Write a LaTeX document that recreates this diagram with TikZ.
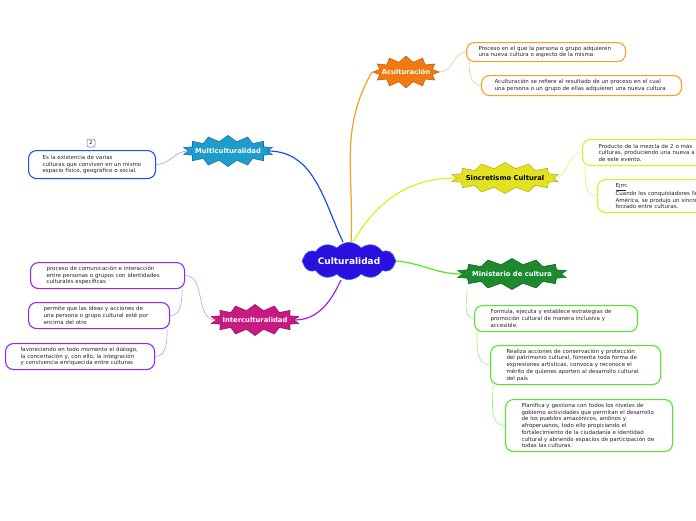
\documentclass[tikz,border=0pt]{standalone}
\usepackage{fontspec}
\setmainfont{DejaVu Sans}
\usetikzlibrary{positioning,shapes.symbols}

\definecolor{cultblue}{HTML}{2A10E0}
\definecolor{cultedge}{HTML}{3A6AE8}
\definecolor{acuorange}{HTML}{F07A10}
\definecolor{aculine}{HTML}{F8A020}
\definecolor{sincyellow}{HTML}{E2E220}
\definecolor{sincline}{HTML}{D8F020}
\definecolor{multiteal}{HTML}{1E9CCC}
\definecolor{multiline}{HTML}{1A50F0}
\definecolor{intermag}{HTML}{C81A80}
\definecolor{interline}{HTML}{A020F0}
\definecolor{mingreen}{HTML}{1E8A30}
\definecolor{minline}{HTML}{50E828}

\begin{document}
\begin{tikzpicture}[
    x=1pt, y=-1pt,
    burst/.style={starburst, starburst points=14, starburst point height=6pt,
                  random starburst=0, inner xsep=-5pt, inner ysep=0pt, line width=0.6pt,
                  font=\fontsize{6.8}{8}\selectfont\bfseries, text=white},
    leaf/.style={rectangle, rounded corners=8pt, draw, fill=white, line width=1.1pt,
                 anchor=north west, align=left, inner xsep=15pt, inner ysep=0pt,
                 font=\fontsize{5.5}{6.7}\selectfont, text=black!85},
    trunk/.style={line width=1.2pt},
    twig/.style={line width=0.6pt},
  ]
  \clip (0,0) rectangle (696,520);
  \fill[white] (0,0) rectangle (696,520);

  % central idea
  \node[cloud, cloud puffs=12, cloud puff arc=100, aspect=3.2, fill=cultblue,
        draw=cultedge, line width=0.6pt, minimum width=94pt, minimum height=34pt,
        inner sep=0pt, text=white, font=\fontsize{9}{10}\selectfont\bfseries]
        (cult) at (349,261) {Culturalidad};

  % main topics
  \node[burst, starburst points=12, fill=acuorange, draw=acuorange!80!black,
        minimum height=32pt] (acu) at (406,72) {Aculturación};
  \node[burst, fill=sincyellow, draw=sincyellow!80!black, text=black,
        minimum height=31pt] (sinc) at (505,178) {Sincretismo Cultural};
  \node[burst, fill=multiteal, draw=multiteal!75!black,
        minimum height=31pt] (multi) at (228,151) {Multiculturalidad};
  \node[burst, fill=intermag, draw=intermag!75!black,
        minimum height=31pt] (inter) at (255,320) {Interculturalidad};
  \node[burst, fill=mingreen, draw=mingreen!75!black,
        minimum height=31pt] (min) at (512,274) {Ministerio de cultura};

  % subtopics
  \node[leaf, draw=aculine, inner xsep=12pt, text width=135pt, minimum height=19pt] (acu1) at (466,42)
    {Proceso en el que la persona o grupo adquieren\\una nueva cultura o aspecto de la misma};
  \node[leaf, draw=aculine, inner xsep=13pt, text width=174pt, minimum height=20pt] (acu2) at (481,75)
    {Aculturación se refiere al resultado de un proceso en el cual\\una persona o un grupo de ellas adquieren una nueva cultura};

  \node[leaf, draw=sincline, inner xsep=16pt, text width=150pt, minimum height=26pt] (sinc1) at (582,139)
    {Producto de la mezcla de 2 o más\\culturas, produciendo una nueva a partir\\de este evento.};
  \node[leaf, draw=sincline, inner xsep=18pt, text width=150pt, minimum height=33pt] (sinc2) at (597,179)
    {\underline{Ejm}:\\Cuando los conquistadores llegaron a\\América, se produjo un sincretismo\\forzado entre culturas.};

  \node[leaf, draw=multiline, inner xsep=14pt, text width=99pt, minimum height=28pt] (multi1) at (28,150)
    {Es la existencia de varias\\culturas que conviven en un mismo\\espacio físico, geográfico o social.};
  \node[rectangle, rounded corners=2pt, draw=multiline!40!gray, line width=0.5pt,
        inner sep=1pt, minimum width=8pt, minimum height=8pt,
        font=\fontsize{5}{6}\selectfont] (badge) at (91,143) {2};

  \node[leaf, draw=interline, inner xsep=16pt, text width=122pt, minimum height=26pt] (inter1) at (30,262)
    {proceso de comunicación e interacción\\entre personas o grupos con identidades\\culturales específicas};
  \node[leaf, draw=interline, text width=111pt, minimum height=26pt] (inter2) at (28,302)
    {permite que las ideas y acciones de\\una persona o grupo cultural esté por\\encima del otro};
  \node[leaf, draw=interline, text width=119pt, minimum height=26pt] (inter3) at (5,343)
    {favoreciendo en todo momento el diálogo,\\la concertación y, con ello, la integración\\y convivencia enriquecida entre culturas};

  \node[leaf, draw=minline, inner xsep=16pt, text width=131pt, minimum height=26pt] (min1) at (474,305)
    {Formula, ejecuta y establece estrategias de\\promoción cultural de manera inclusiva y\\accesible.};
  \node[leaf, draw=minline, inner xsep=16pt, text width=138pt, minimum height=39pt] (min2) at (490,345)
    {Realiza acciones de conservación y protección\\del patrimonio cultural, fomenta toda forma de\\expresiones artísticas, convoca y reconoce el\\mérito de quienes aporten al desarrollo cultural\\del país};
  \node[leaf, draw=minline, inner xsep=16pt, text width=135pt, minimum height=52pt] (min3) at (505,399)
    {Planifica y gestiona con todos los niveles de\\gobierno actividades que permitan el desarrollo\\de los pueblos amazónicos, andinos y\\afroperuanos, todo ello propiciando el\\fortalecimiento de la ciudadanía e identidad\\cultural y abriendo espacios de participación de\\todas las culturas.};

  % branches from the centre
  \draw[trunk, aculine] ([xshift=2pt]cult.north) to[out=87, in=240] (acu.west);
  \draw[trunk, sincline!90!yellow] ([xshift=4pt]cult.north) to[out=60, in=180] (sinc.west);
  \draw[trunk, multiline] ([xshift=-6pt]cult.north) to[out=115, in=0] (multi.east);
  \draw[trunk, interline] ([xshift=-8pt]cult.south) to[out=-115, in=0] (inter.east);
  \draw[trunk, minline] (cult.east) to[out=-5, in=180] (min.west);

  % twigs to the subtopics
  \draw[twig, aculine!60] (acu.east) to[out=0, in=180] (acu1.west);
  \draw[twig, aculine!60] ([xshift=3pt]acu1.south west) to[out=-90, in=180] (acu2.west);
  \draw[twig, sincline!70] (sinc.east) to[out=0, in=180] (sinc1.west);
  \draw[twig, sincline!70] ([xshift=3pt]sinc1.south west) to[out=-90, in=180] (sinc2.west);
  \draw[twig, multiline!50] (multi.west) to[out=180, in=0] (multi1.east);
  \draw[twig, interline!50] (inter.west) to[out=180, in=0] (inter1.east);
  \draw[twig, interline!50] ([xshift=-3pt]inter1.south east) to[out=-90, in=0] (inter2.east);
  \draw[twig, interline!50] ([xshift=-3pt]inter2.south east) to[out=-90, in=0] (inter3.east);
  \draw[twig, minline!60] ([xshift=-45pt]min.south) to[out=-90, in=180] (min1.west);
  \draw[twig, minline!60] ([xshift=3pt]min1.south west) to[out=-90, in=180] (min2.west);
  \draw[twig, minline!60] ([xshift=3pt]min2.south west) to[out=-90, in=180] (min3.west);
\end{tikzpicture}
\end{document}
